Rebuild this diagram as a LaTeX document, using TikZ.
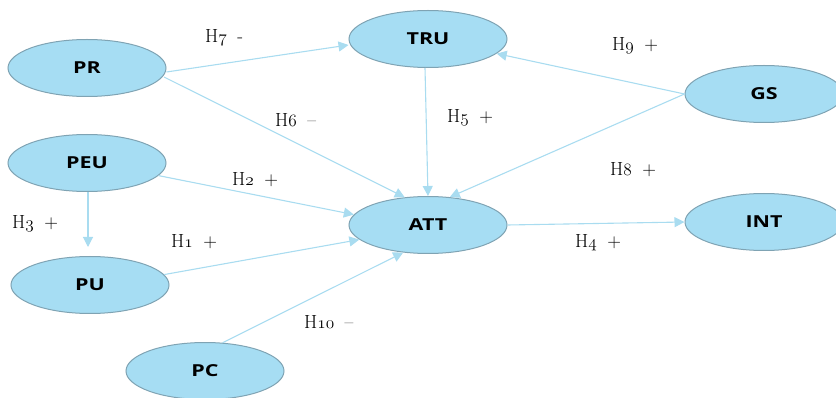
\documentclass[tikz,border=0pt]{standalone}
\usepackage{fontspec}
\newfontfamily\nodefont[FakeStretch=1.3]{Open Sans}
\usetikzlibrary{shapes.geometric,arrows.meta}
\definecolor{efill}{HTML}{A6DDF3}
\definecolor{eborder}{HTML}{7FA3B3}
\definecolor{eline}{HTML}{A9DCF0}
\newcommand{\hyp}[2]{H$\mathnormal{#1}$\hspace{0.55em}#2}
\tikzset{
  var/.style={ellipse, draw=eborder, line width=1pt, fill=efill, minimum width=158pt, minimum height=57pt, inner sep=0pt, font=\nodefont\bfseries\fontsize{16.5}{19}\selectfont},
  link/.style={draw=eline, line width=1.1pt, -{Triangle[length=10pt,width=10pt]}},
  hlab/.style={font=\fontsize{19}{22}\selectfont, inner sep=0pt, anchor=west}
}
\begin{document}
\begin{tikzpicture}[x=1pt,y=-1pt]
\useasboundingbox (0,0) rectangle (836,398);
\node[var] (PR) at (87,68) {PR};
\node[var] (PEU) at (87,163) {PEU};
\node[var] (PU) at (90,285) {PU};
\node[var] (PC) at (205,371) {PC};
\node[var] (TRU) at (428,39) {TRU};
\node[var] (ATT) at (428,225) {ATT};
\node[var] (GS) at (764,94) {GS};
\node[var] (INT) at (764,222) {INT};
\coordinate (PRs) at (164,77);
\draw[link] (PR.east) ++(0,4) -- (TRU.west |- 0,45) ;
\draw[link] (PRs) -- (ATT.130);
\draw[link] (TRU.south) ++(-3,0) -- (ATT.north);
\draw[link] (GS.west) -- (TRU.-12);
\draw[link] (GS.west) -- (ATT.52);
\draw[link] (PEU.-10) -- (ATT.172);
\draw[link] (PEU.south) ++(1,0) -- ++(0,55);
\draw[link] (PU.8) -- (ATT.192);
\draw[link] (PC.58) -- (ATT.228);
\draw[link] (ATT.east) -- (INT.west);
\node[hlab] (h7) at (205,38) {\hyp{7}{-}};
\node[hlab] (h6) at (275,120) {\hyp{6}{--}};
\node[hlab] (h2) at (232,180) {\hyp{2}{+}};
\node[hlab] (h3) at (12,224) {\hyp{3}{+}};
\node[hlab] (h1) at (171,242) {\hyp{1}{+}};
\node[hlab] (h10) at (304,322) {\hyp{10}{--}};
\node[hlab] (h5) at (447,118) {\hyp{5}{+}};
\node[hlab] (h9) at (612,46) {\hyp{9}{+}};
\node[hlab] (h8) at (610,170) {\hyp{8}{+}};
\node[hlab] (h4) at (575,243) {\hyp{4}{+}};
\end{tikzpicture}
\end{document}
